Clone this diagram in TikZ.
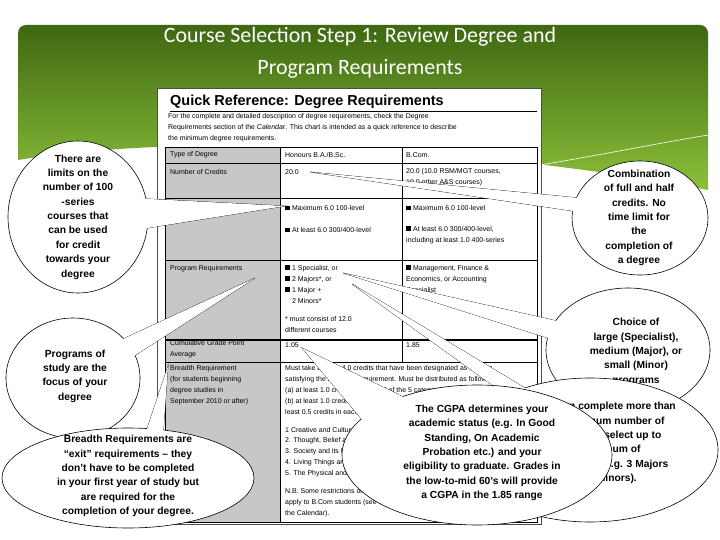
\documentclass[tikz,border=0pt]{standalone}
\usepackage{fontspec}
\setmainfont{Liberation Sans}
\newfontfamily\titlefont{Carlito}
\definecolor{gtop}{RGB}{62,104,18}
\definecolor{gbot}{RGB}{140,192,58}
\begin{document}
\begin{tikzpicture}[x=1bp,y=-1bp,
  ct/.style={font=\bfseries\fontsize{10.3}{14.4}\selectfont,align=center,inner sep=0},
  tt/.style={font=\fontsize{7}{11}\selectfont,anchor=west,inner sep=0,align=left},
  bl/.style={draw=black,line width=.6pt,fill=white}]
\newcommand\bubble[6]{%
  \filldraw[bl] #4 -- #6 -- #5 -- cycle;
  \filldraw[bl] #1 ellipse [x radius=#2 bp,y radius=#3 bp];
  \fill[white] #4 -- #6 -- #5 -- cycle;}
\useasboundingbox (0,0) rectangle (720,540);
\fill[white] (0,0) rectangle (720,540);
% green banner
\begin{scope}
\clip[rounded corners=8bp] (18,25) rectangle (708,260);
\shade[top color=gtop,bottom color=gbot]
  (18,25) -- (708,25) -- (708,190) .. controls (500,150) and (200,130) .. (18,160) -- cycle;
\end{scope}
\draw[white,line width=.6pt] (540,165) .. controls (600,155) and (660,143) .. (708,135);
\draw[white,line width=.4pt] (540,168) .. controls (570,172) and (600,178) .. (620,185);
\node[font=\titlefont\fontsize{22}{32}\selectfont,text=white,align=center] (title) at (360,53)
  {Course Selection Step 1: Review Degree and\\Program Requirements};
% table card
\filldraw[fill=white,draw=black!70,line width=.5pt] (157,88) rectangle (541,524);
\node[font=\bfseries\fontsize{14.5}{16}\selectfont,anchor=west,inner sep=0] (qr) at (170,102) {Quick Reference: Degree Requirements};
\draw[line width=.6pt] (170,111) -- (537,111);
\node[tt,font=\fontsize{7}{11}\selectfont,anchor=north west] (intro) at (168,113)
  {For the complete and detailed description of degree requirements, check the Degree\\
   Requirements section of the \emph{Calendar}. This chart is intended as a quick reference to describe\\
   the minimum degree requirements.};
\fill[black!22] (165,147) rectangle (280,522);
\draw[line width=.6pt] (165,147) rectangle (537,522);
\foreach \yy in {163,198,260,362} \draw[line width=.6pt] (165,\yy) -- (537,\yy);
\draw[line width=1.2pt] (165,340) -- (537,340);
\draw[line width=.6pt] (280,147) -- (280,522);
\draw[line width=.6pt] (402,147) -- (402,362);
\node[tt] (a1) at (170,155) {Type of Degree};
\node[tt] (a2) at (285,155) {Honours B.A./B.Sc.};
\node[tt] (a3) at (406,155) {B.Com.};
\node[tt] (b1) at (170,172) {Number of Credits};
\node[tt] (b2) at (285,172) {20.0};
\node[tt,anchor=north west] (b3) at (406,168) {20.0 (10.0 RSM/MGT courses,\\10.0 other A\&S courses)};
\node[tt] (c2) at (285,208) {\rule{5pt}{5pt} Maximum 6.0 100-level};
\node[tt] (c3) at (406,208) {\rule{5pt}{5pt} Maximum 6.0 100-level};
\node[tt] (d2) at (285,230) {\rule{5pt}{5pt} At least 6.0 300/400-level};
\node[tt,anchor=north west] (d3) at (406,226) {\rule{5pt}{5pt} At least 6.0 300/400-level,\\including at least 1.0 400-series};
\node[tt] (e1) at (170,269) {Program Requirements};
\node[tt,anchor=north west] (e2) at (285,265) {\rule{5pt}{5pt} 1 Specialist, or\\\rule{5pt}{5pt} 2 Majors*, or\\\rule{5pt}{5pt} 1 Major +\\\hspace*{7pt}2 Minors*\\[7pt]* must consist of 12.0\\different courses};
\node[tt,anchor=north west] (e3) at (406,265) {\rule{5pt}{5pt} Management, Finance \&\\Economics, or Accounting\\Specialist};
\node[tt,anchor=north west] (f1) at (170,340) {Cumulative Grade Point\\Average};
\node[tt] (f2) at (285,345) {1.05};
\node[tt] (f3) at (406,345) {1.85};
\node[tt,anchor=north west] (g1) at (170,365) {Breadth Requirement\\(for students beginning\\degree studies in\\September 2010 or after)};
\node[tt,anchor=north west] (g2) at (285,365) {Must take at least 4.0 credits that have been designated as fulfilling\\
 satisfying the Breadth Requirement. Must be distributed as follows:\\
 (a) at least 1.0 credit in each of 3 of the 5 categories, or\\
 (b) at least 1.0 credit in each of 4 of the 5 categories, with at\\
 least 0.5 credits in each of the other categories\\[7pt]
 1 Creative and Cultural Representations\\
 2. Thought, Belief and Behaviour\\
 3. Society and its Institutions\\
 4. Living Things and Their Environment\\
 5. The Physical and Mathematical Universes\\[7pt]
 N.B. Some restrictions on categories\\
 apply to B.Com students (see\\
 the Calendar).};
% callouts
\bubble{(78,217)}{70}{76}{(130,198)}{(135,230)}{(285,206)}
\node[ct] (n1) at (78,217) {There are\\limits on the\\number of 100\\-series\\courses that\\can be used\\for credit\\towards your\\degree};
\bubble{(73,378)}{67}{60}{(110,345)}{(120,365)}{(255,278)}
\node[ct] (n2) at (75,376) {Programs of\\study are the\\focus of your\\degree};
\bubble{(128,478)}{126}{50}{(140,450)}{(162,450)}{(168,366)}
\node[ct] (n3) at (128,476) {Breadth Requirements are\\“exit” requirements – they\\don’t have to be completed\\in your first year of study but\\are required for the\\completion of your degree.};
\bubble{(640,218)}{68}{57}{(600,200)}{(600,215)}{(310,172)}
\node[ct] (n4) at (639,218) {Combination\\of full and half\\credits. No\\time limit for\\the\\completion of\\a degree};
\bubble{(628,350)}{82}{62}{(575,325)}{(570,345)}{(343,273)}
\node[ct] (n5) at (636,352) {Choice of\\large (Specialist),\\medium (Major), or\\small (Minor)\\programs};
\bubble{(590,450)}{128}{72}{(520,405)}{(545,400)}{(352,284)}
\node[ct] (n6) at (606,443) {You can complete more than\\the minimum number of\\programs (select up to\\a maximum of\\3 programs, e.g. 3 Majors\\or 3 Minors).};
\bubble{(477,455)}{135}{70}{(375,435)}{(420,405)}{(302,348)}
\node[ct] (n7) at (482,453) {The CGPA determines your\\academic status (e.g. In Good\\Standing, On Academic\\Probation etc.) and your\\eligibility to graduate. Grades in\\the low-to-mid 60’s will provide\\a CGPA in the 1.85 range};
\end{tikzpicture}
\end{document}
